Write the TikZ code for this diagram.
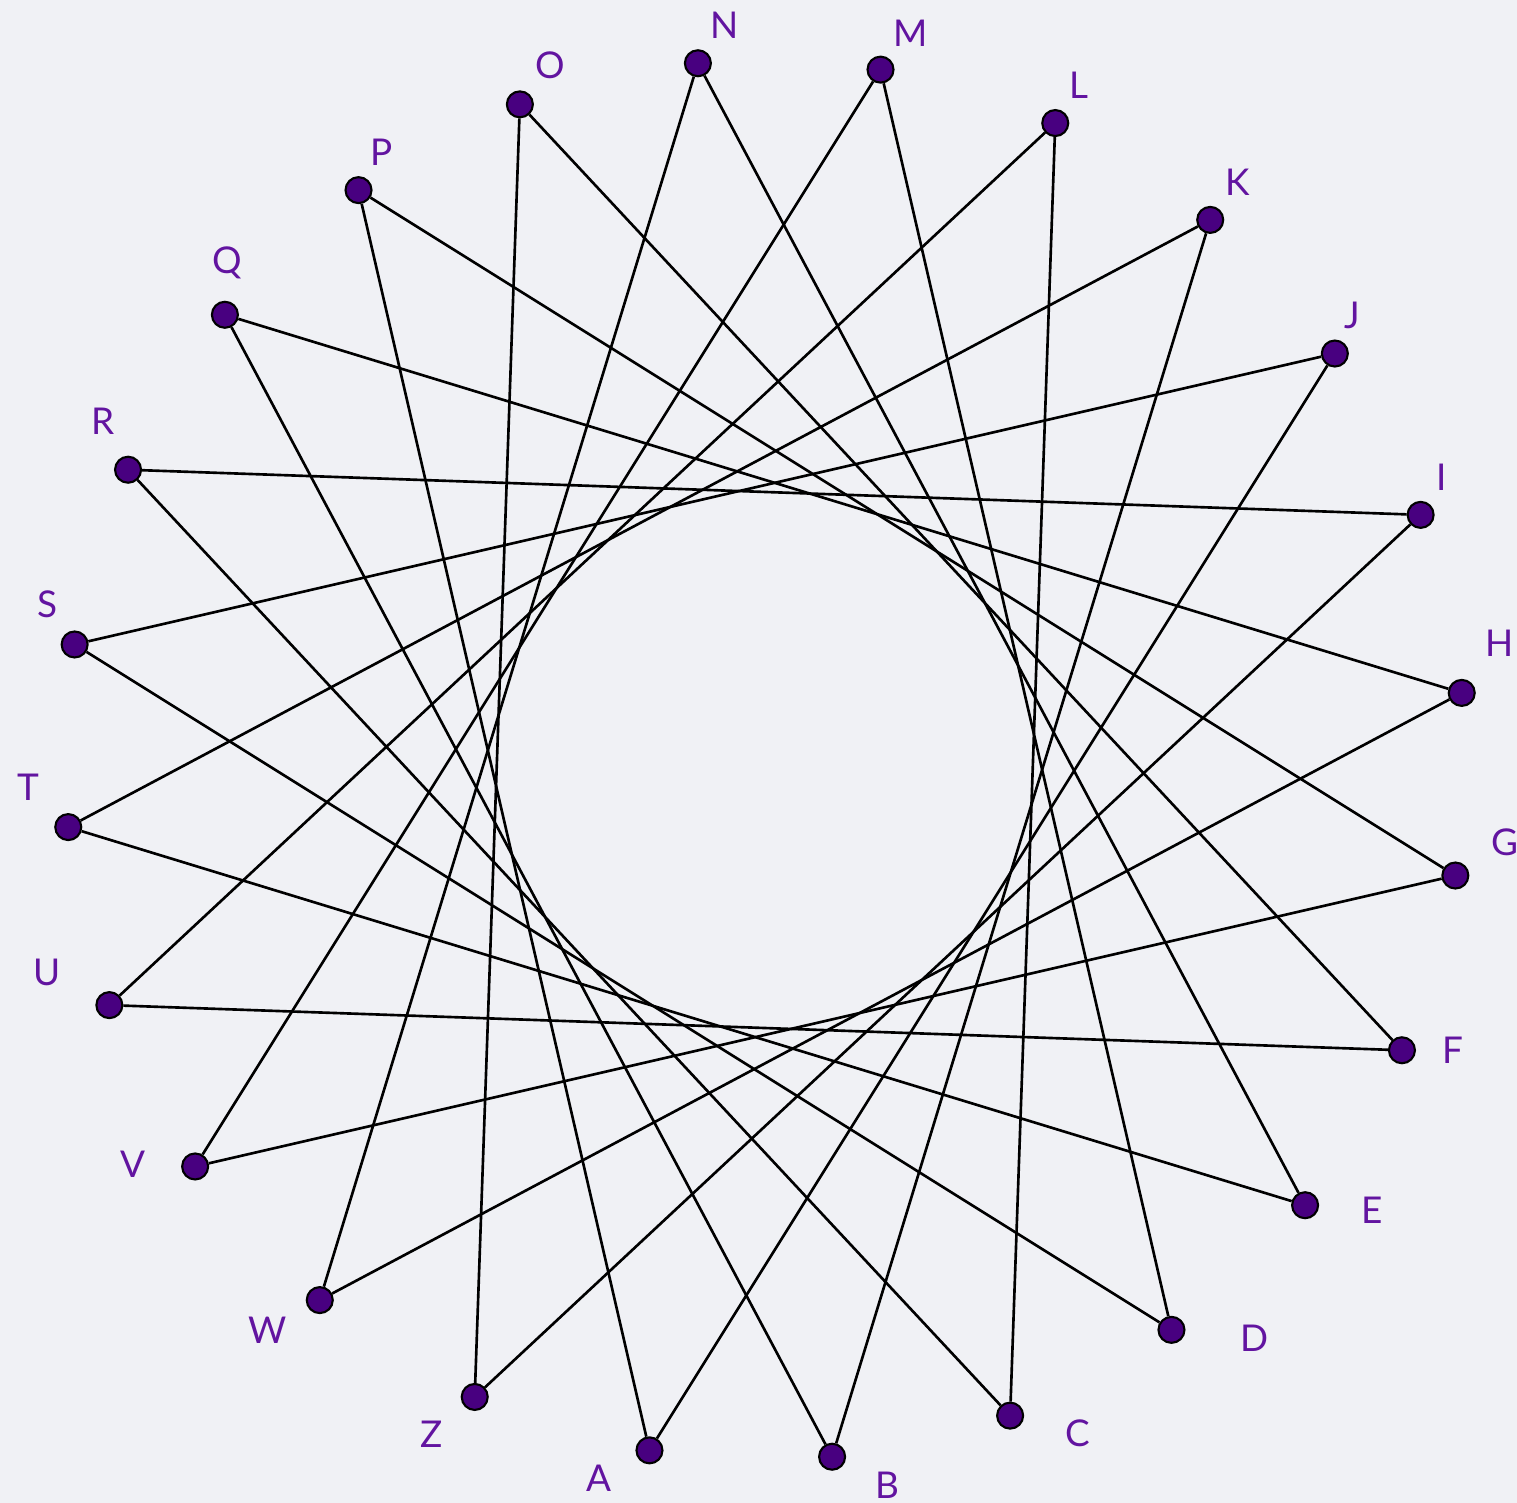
\documentclass[tikz,border=0pt]{standalone}
\usepackage{fontspec}
\setsansfont{Lato}
\usetikzlibrary{positioning}

\definecolor{bggrey}{RGB}{240,241,245}
\definecolor{dotpurple}{RGB}{72,0,128}
\definecolor{lblpurple}{RGB}{98,20,160}

\begin{document}
\begin{tikzpicture}[
	dot/.style={circle, draw=black, fill=dotpurple, line width=0.6pt, minimum size=0.26cm, inner sep=0pt},
	lbl/.style={text=lblpurple, font=\sffamily\fontsize{10.5}{12}\selectfont, inner sep=0pt},
	chord/.style={black, line width=0.75pt}
]
\fill[bggrey] (0,0) rectangle (15.17,15.03);
\useasboundingbox (0,0) rectangle (15.17,15.03);
\coordinate (ctr) at (7.65,7.43);

% 24 points on the circle, with label offsets
\foreach \name/\dx/\dy [count=\i from 0] in {
	A/-0.50/-0.28, B/0.55/-0.29, C/0.68/-0.18, D/0.83/-0.08,
	E/0.67/-0.05, F/0.51/0.00, G/0.50/0.33, H/0.38/0.50,
	I/0.21/0.38, J/0.17/0.38, K/0.27/0.38, L/0.24/0.38,
	M/0.30/0.36, N/0.27/0.38, O/0.30/0.39, P/0.23/0.38,
	Q/0.02/0.52, R/-0.25/0.48, S/-0.27/0.40, T/-0.40/0.40,
	U/-0.62/0.33, V/-0.62/0.02, W/-0.52/-0.30, Z/-0.43/-0.37}
{
	\node[dot] (\name) at ([shift={(260.5+15*\i:7)}]ctr) {};
	\node[lbl, xshift=\dx cm, yshift=\dy cm] (l\name) at (\name) {\name};
}

% each point joined to the ninth one after it
\foreach \a/\b in {A/J, B/K, C/L, D/M, E/N, F/O, G/P, H/Q, I/R, J/S, K/T, L/U,
	M/V, N/W, O/Z, P/A, Q/B, R/C, S/D, T/E, U/F, V/G, W/H, Z/I}
	\draw[chord] (\a) -- (\b);
\end{tikzpicture}
\end{document}
